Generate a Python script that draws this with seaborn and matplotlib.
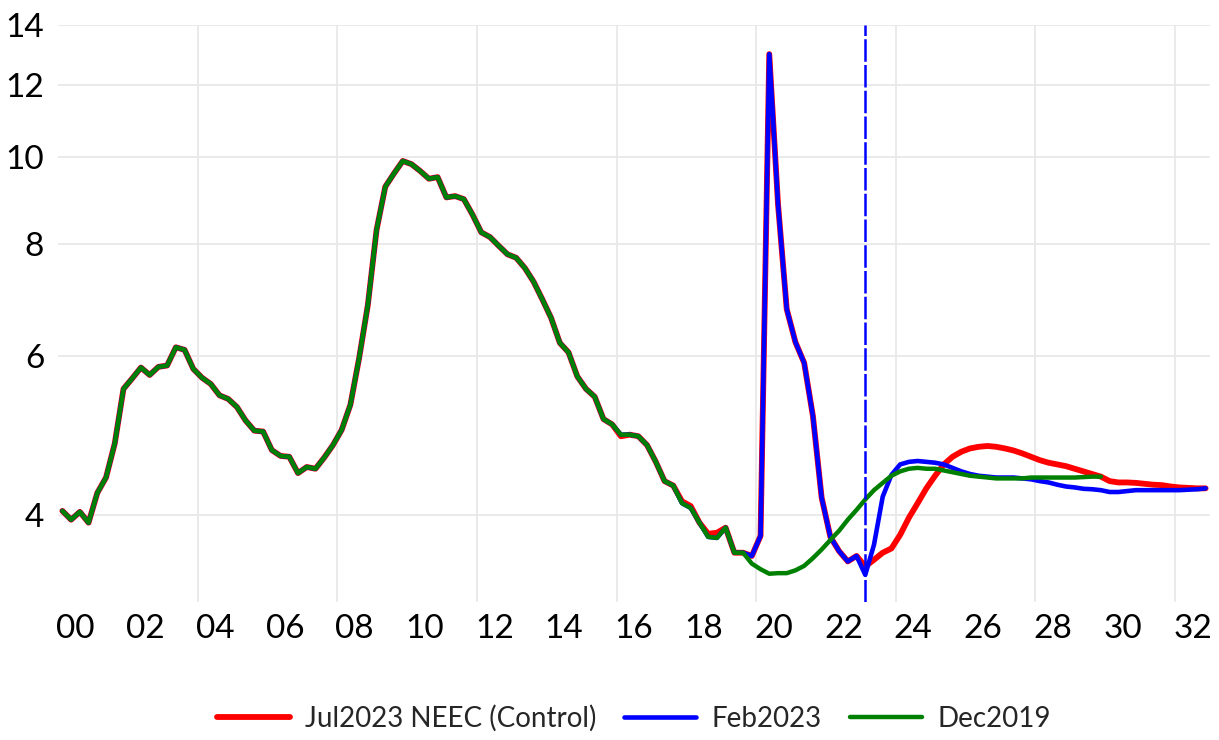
import numpy as np
import pandas as pd
import matplotlib
matplotlib.use("Agg")
import matplotlib.pyplot as plt
import seaborn as sns
from matplotlib.ticker import FixedLocator, FuncFormatter, NullLocator

# ---- data (quarterly, 2000Q1 .. 2032Q4) ----
first_year = 2000
# history shared by all three runs, 2000Q1 - 2019Q3
history = [
    4.04, 3.95, 4.03, 3.92,   # 2000
    4.23, 4.40, 4.80, 5.52,   # 2001
    5.67, 5.83, 5.72, 5.84,   # 2002
    5.86, 6.14, 6.10, 5.81,   # 2003
    5.68, 5.59, 5.43, 5.38,   # 2004
    5.27, 5.09, 4.96, 4.95,   # 2005
    4.72, 4.65, 4.64, 4.45,   # 2006
    4.52, 4.50, 4.63, 4.78,   # 2007
    4.97, 5.30, 5.97, 6.84,   # 2008
    8.29, 9.26, 9.58, 9.89,   # 2009
    9.81, 9.64, 9.45, 9.49,   # 2010
    9.01, 9.04, 8.97, 8.62,   # 2011
    8.24, 8.14, 7.96, 7.79,   # 2012
    7.72, 7.52, 7.26, 6.94,   # 2013
    6.62, 6.21, 6.06, 5.70,   # 2014
    5.52, 5.41, 5.11, 5.04,   # 2015
    4.91, 4.91, 4.89, 4.78,   # 2016
    4.58, 4.36, 4.31, 4.12,   # 2017
    4.07, 3.92, 3.78, 3.77,   # 2018
    3.87, 3.63, 3.63,         # 2019 Q1-Q3
]
# small revisions in the control run (quarter index -> value)
control_revisions = {64: 4.89, 71: 4.14, 72: 4.09, 74: 3.81, 75: 3.82}

# covid path shared by control and Feb2023, 2019Q4 - 2022Q4
covid_path = [3.60,
              3.79, 13.0, 8.86, 6.77,
              6.22, 5.90, 5.15, 4.18,
              3.78, 3.645, 3.55, 3.60]

# projections 2023Q1 - 2032Q4
control_tail = [3.505, 3.565, 3.63, 3.67,
                3.80, 3.97, 4.12, 4.28,
                4.42, 4.55, 4.64, 4.70,
                4.74, 4.76, 4.77, 4.76,
                4.74, 4.715, 4.68, 4.64,
                4.60, 4.57, 4.55, 4.53,
                4.50, 4.47, 4.44, 4.41,
                4.36, 4.345, 4.345, 4.34,
                4.33, 4.32, 4.315, 4.30,
                4.29, 4.285, 4.28, 4.28]
feb2023_tail = [3.43, 3.705, 4.19, 4.43,
                4.55, 4.58, 4.59, 4.58,
                4.57, 4.55, 4.51, 4.47,
                4.44, 4.42, 4.41, 4.40,
                4.40, 4.40, 4.39, 4.38,
                4.36, 4.345, 4.32, 4.30,
                4.29, 4.275, 4.27, 4.26,
                4.24, 4.24, 4.25, 4.26,
                4.26, 4.26, 4.26, 4.26,
                4.26, 4.265, 4.27, 4.28]
# Dec2019 run, 2019Q4 - 2029Q4
dec2019_tail = [3.53,
                3.48, 3.44, 3.445, 3.445,
                3.47, 3.51, 3.58, 3.66,
                3.75, 3.84, 3.95, 4.05,
                4.16, 4.26, 4.34, 4.42,
                4.47, 4.50, 4.51, 4.50,
                4.50, 4.48, 4.46, 4.44,
                4.42, 4.41, 4.40, 4.39,
                4.39, 4.39, 4.39, 4.40,
                4.40, 4.40, 4.40, 4.40,
                4.40, 4.405, 4.41, 4.41]

forecast_start = "2023Q1"
series_names = ["Jul2023 NEEC (Control)", "Feb2023", "Dec2019"]
series_colors = ["#ff0000", "#0000ff", "#008000"]
series_widths = [4.2, 3.3, 3.2]
y_ticks = [4, 6, 8, 10, 12, 14]
x_label_years = list(range(2000, 2033, 2))
x_grid_years = list(range(2004, 2033, 4))


def quarter_pos(i):
    # centre of quarter i (0 = 2000Q1) in decimal years
    return first_year + (i + 0.5) / 4


def label_pos(q):
    year, qn = int(q[:4]), int(q[-1])
    return quarter_pos((year - first_year) * 4 + qn - 1)


control = list(history)
for k, v in control_revisions.items():
    control[k] = v
control = control + covid_path + control_tail
feb2023 = history + covid_path + feb2023_tail
dec2019 = history + dec2019_tail

frames = []
for name, vals in zip(series_names, [control, feb2023, dec2019]):
    frames.append(pd.DataFrame({
        "x": [quarter_pos(i) for i in range(len(vals))],
        "value": vals,
        "series": name,
    }))
df = pd.concat(frames, ignore_index=True)

# ---- plot ----
sns.set_style("white")
plt.rcParams["font.family"] = ["Lato", "DejaVu Sans"]

fig, ax = plt.subplots(figsize=(12.19, 7.4), dpi=100)
fig.subplots_adjust(left=0.0476, right=0.9926, top=0.966, bottom=0.1865)

for name, col, lw in zip(series_names, series_colors, series_widths):
    sns.lineplot(data=df[df["series"] == name], x="x", y="value", color=col,
                 linewidth=lw, label=name, sort=False, ax=ax)

ax.axvline(label_pos(forecast_start), color="#0000ff", linewidth=1.8,
           dashes=(9, 1.3), zorder=5)

ax.set_yscale("log")
ax.set_ylim(3.2, 14)
ax.yaxis.set_major_locator(FixedLocator(y_ticks))
ax.yaxis.set_minor_locator(NullLocator())
ax.yaxis.set_major_formatter(FuncFormatter(lambda v, p: f"{v:g}"))

ax.set_xlim(2000, 2033)
ax.xaxis.set_major_locator(FixedLocator([y + 0.5 for y in x_label_years]))
ax.xaxis.set_major_formatter(FuncFormatter(lambda v, p: f"{int(v) % 100:02d}"))
ax.xaxis.set_minor_locator(FixedLocator(x_grid_years))

ax.grid(False)
ax.grid(axis="y", which="major", color="#e8e8e8", linewidth=1.3)
ax.grid(axis="x", which="minor", color="#e8e8e8", linewidth=1.3)
ax.set_axisbelow(True)
ax.tick_params(axis="both", which="both", length=0, labelsize=24, colors="black")
ax.tick_params(axis="y", pad=10)
ax.tick_params(axis="x", pad=9)
ax.set_xlabel("")
ax.set_ylabel("")
sns.despine(ax=ax, left=True, bottom=True)

ax.legend(loc="upper center", bbox_to_anchor=(0.5, -0.135), ncol=3,
          frameon=False, fontsize=20, handlelength=2.6, handletextpad=0.55,
          columnspacing=1.0)

fig.savefig("out.png", dpi=100)
